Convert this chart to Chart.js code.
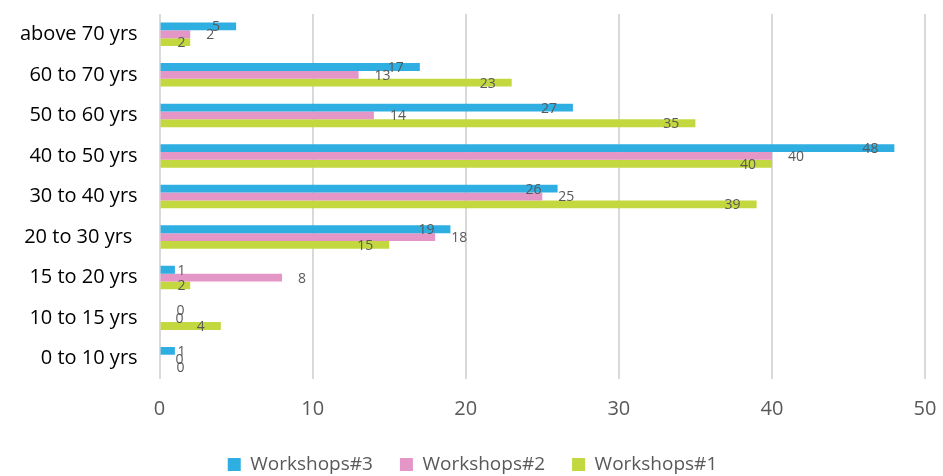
<!DOCTYPE html>
<html>
<head>
<meta charset="utf-8">
<script src="https://cdn.jsdelivr.net/npm/chart.js@4/dist/chart.umd.min.js"></script>
<style>
  html, body { margin: 0; padding: 0; background: #ffffff; }
  #wrap { width: 943px; height: 476px; }
</style>
</head>
<body>
<div id="wrap"><canvas id="chart" width="943" height="476"></canvas></div>
<script>
// Age groups, listed top to bottom
const ageGroups = [
  'above 70 yrs', '60 to 70 yrs', '50 to 60 yrs', '40 to 50 yrs', '30 to 40 yrs',
  '20 to 30 yrs ', '15 to 20 yrs', '10 to 15 yrs', '0 to 10 yrs'
];

// Participants per age group in each workshop
const workshop3 = [5, 17, 27, 48, 26, 19, 1, 0, 1];
const workshop2 = [2, 13, 14, 40, 25, 18, 8, 0, 0];
const workshop1 = [2, 23, 35, 40, 39, 15, 2, 4, 0];

const seriesNames = ['Workshops#3', 'Workshops#2', 'Workshops#1'];
const xTicks = [0, 10, 20, 30, 40, 50];

const FONT = '"Open Sans", sans-serif';
const GREY = '#595959';

// Value labels: series 1 and 3 sit just inside the bar end, series 2 just outside
const valueLabels = {
  id: 'valueLabels',
  afterDatasetsDraw(chart) {
    const ctx = chart.ctx;
    ctx.save();
    ctx.font = '14px ' + FONT;
    ctx.fillStyle = GREY;
    ctx.textBaseline = 'middle';
    ctx.textAlign = 'left';
    chart.data.datasets.forEach((ds, di) => {
      const meta = chart.getDatasetMeta(di);
      meta.data.forEach((bar, i) => {
        const text = String(ds.data[i]);
        const w = ctx.measureText(text).width;
        let left;
        if (di === 1) {
          left = bar.x + 16;
        } else {
          left = Math.max(bar.x - 16 - w, bar.base + 17);
        }
        ctx.fillText(text, left, bar.y + 1);
      });
    });
    ctx.restore();
  }
};

new Chart(document.getElementById('chart'), {
  type: 'bar',
  data: {
    labels: ageGroups,
    datasets: [
      { label: seriesNames[0], data: workshop3, backgroundColor: '#2FAEE2' },
      { label: seriesNames[1], data: workshop2, backgroundColor: '#E496C7' },
      { label: seriesNames[2], data: workshop1, backgroundColor: '#C2D83E' }
    ]
  },
  options: {
    indexAxis: 'y',
    responsive: false,
    animation: false,
    devicePixelRatio: 1,
    categoryPercentage: 0.58,
    barPercentage: 1,
    layout: { padding: { top: 14, right: 18, left: 20, bottom: -8 } },
    scales: {
      x: {
        min: 0,
        max: 50,
        afterBuildTicks(scale) { scale.ticks = xTicks.map(v => ({ value: v })); },
        grid: { color: '#D9D9D9', lineWidth: 2, drawTicks: true, tickLength: 12, tickColor: 'rgba(0,0,0,0)' },
        border: { display: false },
        ticks: { color: GREY, font: { family: FONT, size: 20, lineHeight: 1.85 }, padding: 0 }
      },
      y: {
        grid: { display: true, drawOnChartArea: false, drawTicks: true, tickLength: 22, color: 'rgba(0,0,0,0)', tickColor: 'rgba(0,0,0,0)' },
        border: { display: false },
        ticks: { color: '#000000', font: { family: FONT, size: 20 }, padding: 0 }
      }
    },
    plugins: {
      legend: {
        position: 'bottom',
        labels: {
          color: GREY,
          font: { family: FONT, size: 19 },
          boxWidth: 13,
          boxHeight: 13,
          padding: 27
        }
      },
      tooltip: { enabled: false }
    }
  },
  plugins: [valueLabels]
});
</script>
</body>
</html>
